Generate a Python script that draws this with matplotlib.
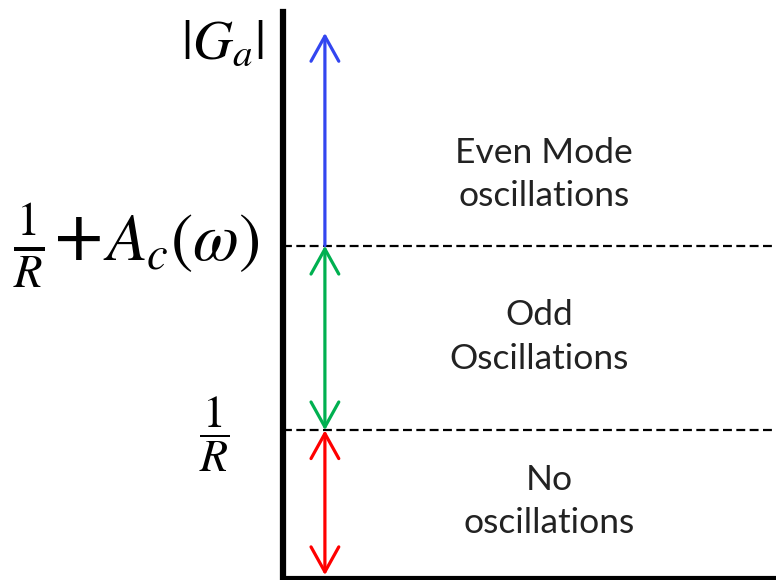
import matplotlib
matplotlib.use("Agg")
import matplotlib.pyplot as plt

plt.rcParams['mathtext.fontset'] = 'stix'

# Levels (arbitrary units, axis from 0 to 10)
level_names = ["1/R", "1/R + Ac"]
levels = [2.61, 5.87]
arrow_bottom = 0.05
arrow_top = 9.63
arrow_x = 0.085

region_labels = ["Even Mode\noscillations", "Odd\nOscillations", "No\noscillations"]
region_x = [0.530, 0.519, 0.540]
region_y = [7.13, 4.26, 1.35]

W, H = 776, 580
fig = plt.figure(figsize=(W / 100, H / 100), dpi=100)
ax = fig.add_axes([283 / W, 2 / H, (W - 283) / W, (578 - 12) / H])
ax.set_xlim(0, 1)
ax.set_ylim(0, 10)
for s in ['top', 'right']:
    ax.spines[s].set_visible(False)
ax.spines['left'].set_linewidth(4.5)
ax.spines['bottom'].set_linewidth(3)
ax.set_xticks([])
ax.set_yticks([])

for lv in levels:
    ax.axhline(lv, color='black', lw=1.6, linestyle=(0, (4, 2)))

ap = dict(lw=2.3, shrinkA=0, shrinkB=0, mutation_scale=20)
ax.annotate('', xy=(arrow_x, arrow_top), xytext=(arrow_x, levels[1]),
            arrowprops=dict(arrowstyle='->,head_length=0.9,head_width=0.5', color='#3346f0', **ap))
ax.annotate('', xy=(arrow_x, levels[1]), xytext=(arrow_x, levels[0]),
            arrowprops=dict(arrowstyle='<->,head_length=0.9,head_width=0.5', color='#00b050', **ap))
ax.annotate('', xy=(arrow_x, levels[0]), xytext=(arrow_x, arrow_bottom),
            arrowprops=dict(arrowstyle='<->,head_length=0.9,head_width=0.5', color='#ff0000', **ap))

for lab, x, y in zip(region_labels, region_x, region_y):
    ax.text(x, y, lab, ha='center', va='center', fontsize=25.5, family='Lato',
            color='#222222', linespacing=1.45)

# Left-side labels (figure coordinates)
fig.text(222 / W, 1 - 43 / H, r'$|G_a|$', fontsize=40, ha='center', va='center')
fig.text(13 / W, 1 - 246 / H, r'$\frac{1}{R}$+$A_c(\omega)$', fontsize=48, ha='left', va='center')
fig.text(214 / W, 1 - 434 / H, r'$\dfrac{1}{R}$', fontsize=33, ha='center', va='center')

fig.savefig('out.png', dpi=100)
